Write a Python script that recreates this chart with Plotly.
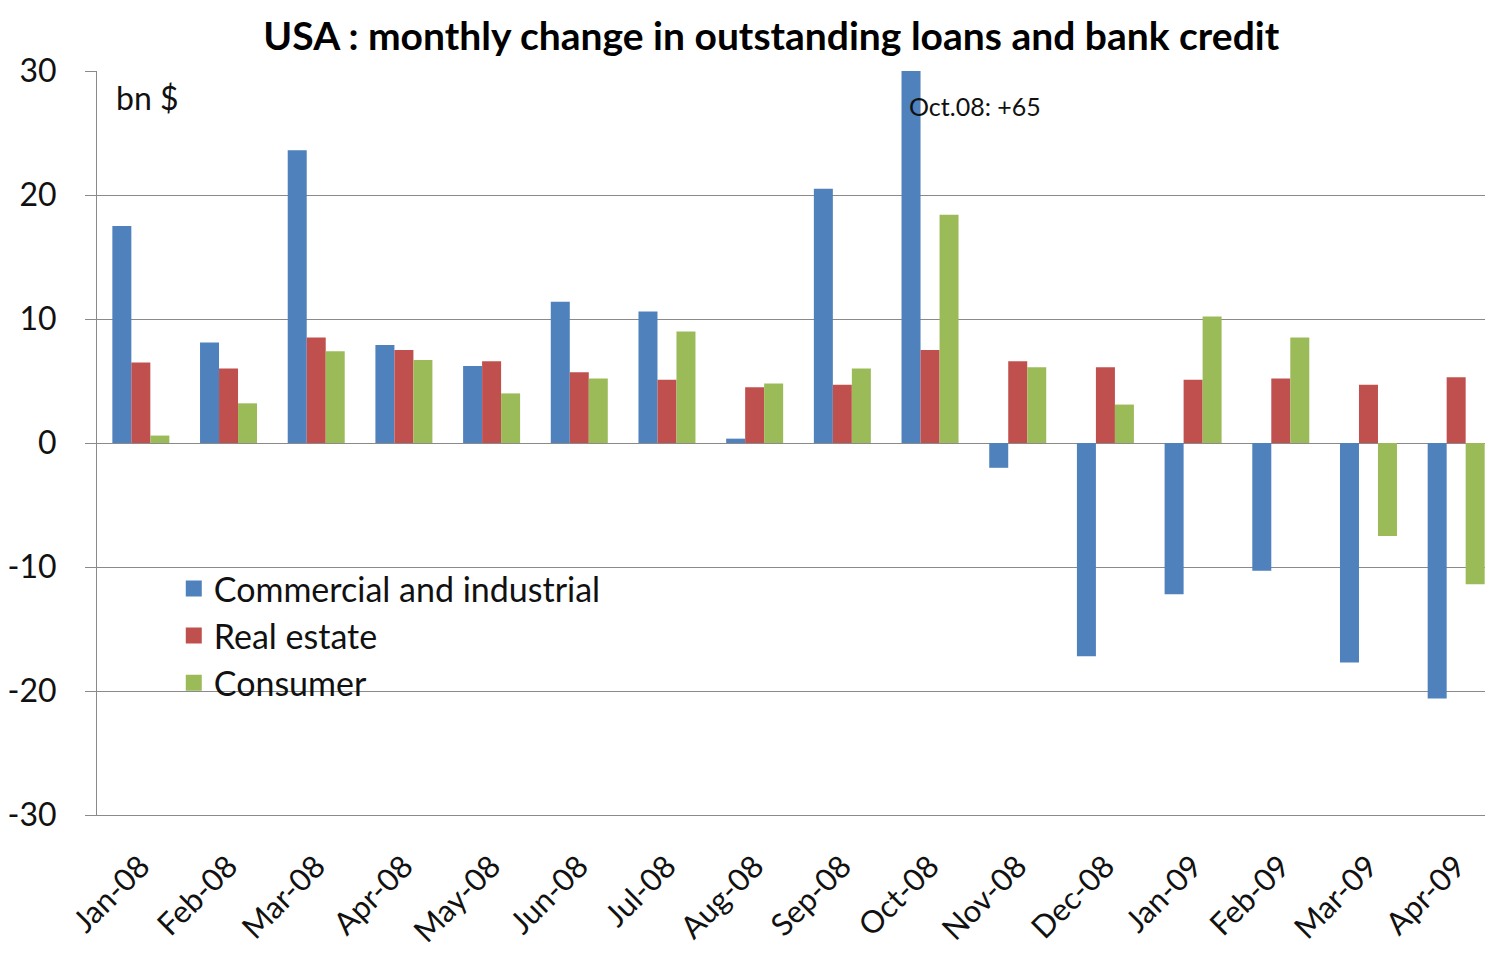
import plotly.graph_objects as go

months = ["Jan-08", "Feb-08", "Mar-08", "Apr-08", "May-08", "Jun-08", "Jul-08", "Aug-08",
          "Sep-08", "Oct-08", "Nov-08", "Dec-08", "Jan-09", "Feb-09", "Mar-09", "Apr-09"]
commercial = [17.5, 8.1, 23.6, 7.9, 6.2, 11.4, 10.6, 0.35, 20.5, 65.0, -2.0, -17.2, -12.2, -10.3, -17.7, -20.6]
real_estate = [6.5, 6.0, 8.5, 7.5, 6.6, 5.7, 5.1, 4.5, 4.7, 7.5, 6.6, 6.1, 5.1, 5.2, 4.7, 5.3]
consumer = [0.6, 3.2, 7.4, 6.7, 4.0, 5.2, 9.0, 4.8, 6.0, 18.4, 6.1, 3.1, 10.2, 8.5, -7.5, -11.4]

series_names = ["Commercial and industrial", "Real estate", "Consumer"]
colors = ["#4F81BD", "#C0504D", "#9BBB59"]
y_ticks = [-30, -20, -10, 0, 10, 20, 30]
y_ticktext = [str(v) for v in y_ticks]

FONT = "Lato"
GRID = "#8a8a8a"

fig = go.Figure()
for name, vals, col in zip(series_names, [commercial, real_estate, consumer], colors):
    fig.add_trace(go.Bar(x=months, y=vals, name=name, marker=dict(color=col, line=dict(width=0)),
                         showlegend=False))
# legend entries with larger square symbols
for name, col in zip(series_names, colors):
    fig.add_trace(go.Scatter(x=[None], y=[None], mode="markers", name=name,
                             marker=dict(symbol="square", size=16, color=col)))

fig.update_layout(
    width=1485, height=947,
    margin=dict(l=89, r=0, t=63, b=140),
    paper_bgcolor="white", plot_bgcolor="white",
    barmode="group", bargap=0.35, bargroupgap=0,
    title=dict(text="<b>USA : monthly change in outstanding loans and bank credit</b>",
               x=0.514, xanchor="center", y=0.985, yanchor="top",
               font=dict(family=FONT, size=39, color="black")),
    font=dict(family=FONT, color="#111111"),
    legend=dict(x=0.055, xanchor="left", y=0.343, yanchor="top",
                bgcolor="rgba(0,0,0,0)", font=dict(family=FONT, size=34, color="#111111"),
                itemsizing="trace", tracegroupgap=0),
    xaxis=dict(type="category", range=[-0.5, 15.42], showgrid=False, ticks="",
               tickangle=-45, tickfont=dict(family=FONT, size=31, color="#111111"),
               showline=True, linecolor=GRID, linewidth=1, ticklabelstandoff=20,
               automargin=False, fixedrange=True),
    xaxis2=dict(overlaying="x", anchor="free", position=0.5, range=[-0.5, 15.42],
                tickvals=[i + 0.5 for i in range(15)], ticks="outside", ticklen=9,
                tickcolor=GRID, showticklabels=False, showgrid=False, zeroline=False,
                showline=True, linecolor=GRID, linewidth=1),
    yaxis=dict(range=[-30, 30], tickvals=y_ticks, ticktext=y_ticktext, showgrid=True,
               gridcolor=GRID, gridwidth=1,
               zeroline=False, showline=True, linecolor=GRID, linewidth=1,
               ticks="outside", ticklen=11, tickcolor=GRID, ticklabelstandoff=22,
               automargin=False,
               tickfont=dict(family=FONT, size=32, color="#111111")),
    annotations=[
        dict(text="bn $", xref="paper", yref="paper", x=0.0125, y=0.965, xanchor="left",
             yanchor="middle", showarrow=False, font=dict(family=FONT, size=32, color="#111111")),
        dict(text="Oct.08: +65", xref="paper", yref="paper", x=0.5805, y=0.953, xanchor="left",
             yanchor="middle", showarrow=False, font=dict(family=FONT, size=25, color="#111111")),
    ],
)

fig.write_html("out.html")
